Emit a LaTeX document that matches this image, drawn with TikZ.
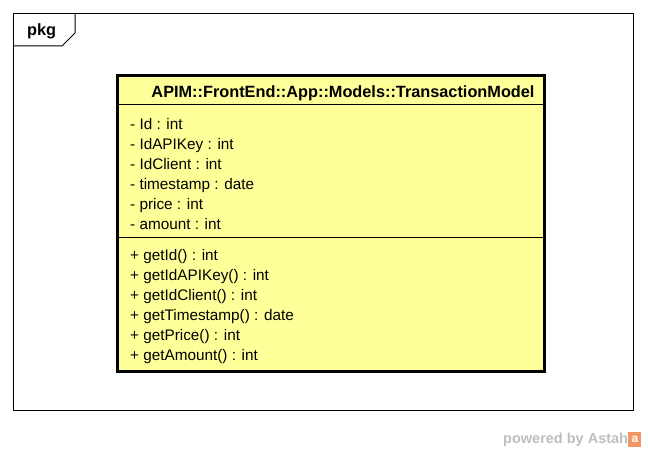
\documentclass[tikz,border=0pt]{standalone}
\usepackage{fontspec}
\setmainfont{Liberation Sans}
\usetikzlibrary{positioning}
\definecolor{classfill}{RGB}{255,255,153}
\definecolor{astahgray}{RGB}{190,190,190}
\definecolor{astahorange}{RGB}{242,150,100}
\tikzstyle{frame} = [draw=black, line width=1pt]
\tikzstyle{classbox} = [draw=black, fill=classfill, line width=2.4pt]
\tikzstyle{member} = [inner sep=0pt, anchor=base west, font=\fontsize{15.3}{18}\selectfont]
\tikzstyle{classtitle} = [inner sep=0pt, anchor=base, font=\fontsize{16.3}{18}\selectfont\bfseries]

\begin{document}
\begin{tikzpicture}[x=1pt, y=-1pt]
	\useasboundingbox (0,0) rectangle (648,452);
	% package frame
	\draw[frame] (13.5,13.5) rectangle (633.5,410.5);
	\draw[frame] (13.5,46) -- (62,46) -- (75,33) -- (75,13.5);
	\node[classtitle, anchor=base west] (pkg) at (27,36) {pkg};
	% class
	\draw[classbox] (117.5,75.5) rectangle (544.5,371.5);
	\coordinate (sepA) at (118,104.5);
	\coordinate (sepB) at (118,237.5);
	\draw[line width=1pt] (sepA) -- ++(426,0);
	\draw[line width=1pt] (sepB) -- ++(426,0);
	\node[classtitle] (title) at (343,97) {APIM::FrontEnd::App::Models::TransactionModel};
	\foreach \txt [count=\i from 0] in {- Id : int, - IdAPIKey : int, - IdClient : int, - timestamp : date, - price : int, - amount : int}
		\node[member] (attr\i) at (130,129+20*\i) {\txt};
	\foreach \txt [count=\i from 0] in {+ getId() : int, + getIdAPIKey() : int, + getIdClient() : int, + getTimestamp() : date, + getPrice() : int, + getAmount() : int}
		\node[member] (op\i) at (130,260+20*\i) {\txt};
	% watermark
	\node[inner sep=0pt, anchor=base west, text=astahgray, font=\fontsize{14.5}{16}\selectfont\bfseries] (powered) at (503,443) {powered by Astah};
	\node[fill=astahorange, text=white, inner sep=0pt, minimum width=13pt, minimum height=15pt, font=\fontsize{12}{14}\selectfont\bfseries, right=0pt of powered] (logo) {a};
\end{tikzpicture}
\end{document}
